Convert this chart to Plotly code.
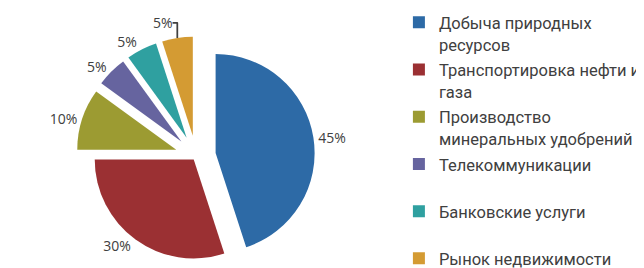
import plotly.graph_objects as go

category_lines = [
    ["Добыча природных", "ресурсов"],
    ["Транспортировка нефти и", "газа"],
    ["Производство", "минеральных удобрений"],
    ["Телекоммуникации", " "],
    ["Банковские услуги", " "],
    ["Рынок недвижимости"],
]
shares = [45, 30, 10, 5, 5, 5]
pulls = [0.2, 0.04, 0.21, 0.21, 0.21, 0.21]
colors = ["#2D6AA6", "#9B3033", "#9C9B32", "#66649F", "#2FA0A0", "#D49B33"]

labels = [
    "<br>".join('<span style="font-size:16.5px">%s</span>' % ln for ln in lines)
    for lines in category_lines
]

fig = go.Figure(
    go.Pie(
        labels=labels,
        values=shares,
        sort=False,
        direction="clockwise",
        rotation=0,
        pull=pulls,
        marker=dict(colors=colors, line=dict(width=0)),
        texttemplate="%{value}%",
        textposition="outside",
        textfont=dict(family="Open Sans", size=14, color="#404040"),
        domain=dict(x=[0, 0.584], y=[0, 0.894]),
        hoverinfo="percent",
    )
)

fig.update_layout(
    width=644,
    height=268,
    margin=dict(l=0, r=0, t=0, b=0, autoexpand=False),
    paper_bgcolor="white",
    plot_bgcolor="white",
    showlegend=True,
    legend=dict(
        x=0.607,
        xanchor="left",
        y=1.012,
        yanchor="top",
        valign="top",
        maxheight=1,
        font=dict(family="Roboto", size=17, color="#404040"),
        bgcolor="rgba(0,0,0,0)",
    ),
)

fig.write_html("out.html")
